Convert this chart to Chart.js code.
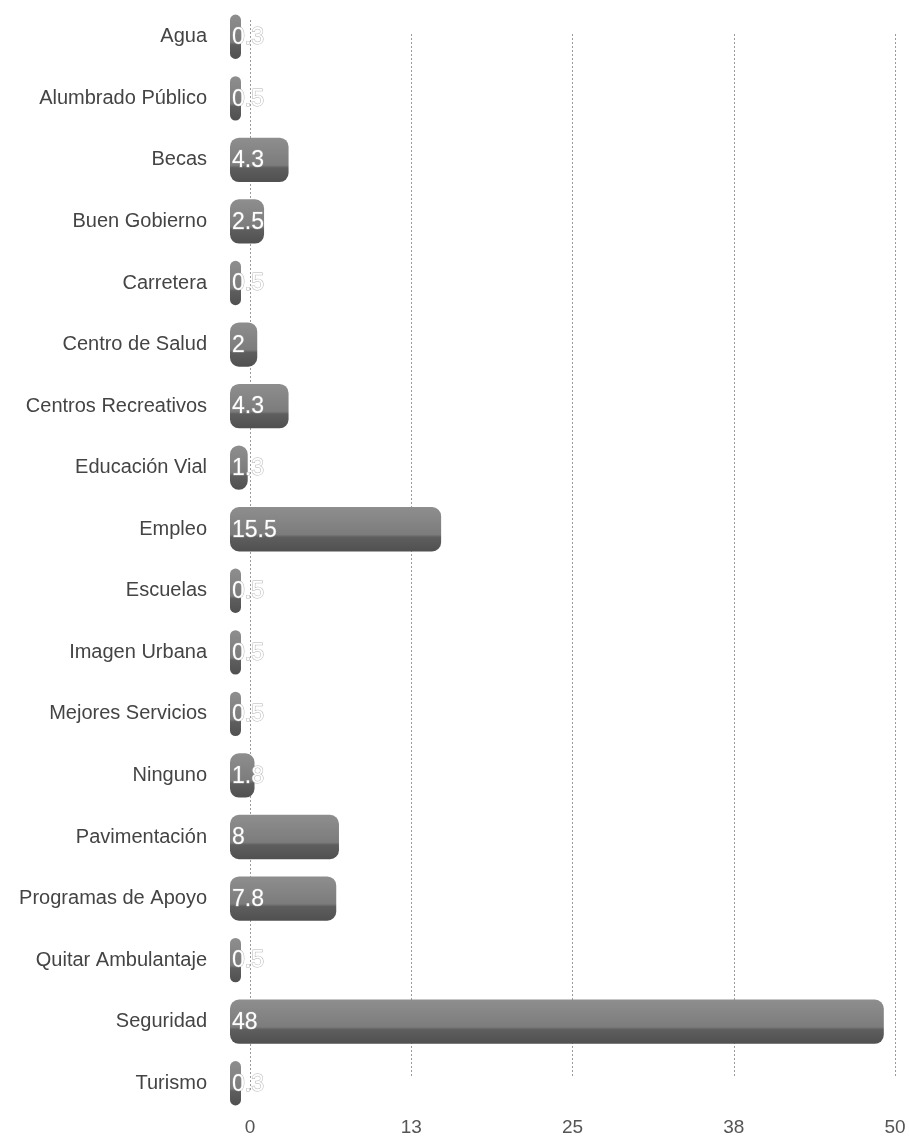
<!DOCTYPE html>
<html>
<head>
<meta charset="utf-8">
<script src="https://cdn.jsdelivr.net/npm/chart.js@4/dist/chart.umd.min.js"></script>
<style>
html,body{margin:0;padding:0;background:#fff;}
#wrap{width:909px;height:1142px;position:relative;}
</style>
</head>
<body>
<div id="wrap"><canvas id="c" width="909" height="1142"></canvas></div>
<script>
const categories = ["Agua","Alumbrado Público","Becas","Buen Gobierno","Carretera","Centro de Salud","Centros Recreativos","Educación Vial","Empleo","Escuelas","Imagen Urbana","Mejores Servicios","Ninguno","Pavimentación","Programas de Apoyo","Quitar Ambulantaje","Seguridad","Turismo"];
const values = [0.3,0.5,4.3,2.5,0.5,2,4.3,1.3,15.5,0.5,0.5,0.5,1.8,8,7.8,0.5,48,0.3];
const tickValues = [0,12.5,25,37.5,50];

const BAR_PCT = 0.72;

const dottedGrid = {
  id:'dottedGrid',
  beforeDatasetsDraw(chart){
    const s = chart.scales.x2, ctx = chart.ctx, a = chart.chartArea;
    ctx.save();
    ctx.strokeStyle = '#9a9a9a';
    ctx.lineWidth = 1;
    ctx.setLineDash([2,2]);
    s.ticks.forEach((t,i)=>{
      const x = Math.round(s.getPixelForValue(t.value)) + 0.5;
      const y0 = i===0 ? a.top + 14 : a.top + 28;
      const y1 = i===0 ? a.bottom - 24 : a.bottom - 36;
      ctx.beginPath(); ctx.moveTo(x,y0); ctx.lineTo(x,y1); ctx.stroke();
    });
    ctx.restore();
  }
};

const valueLabels = {
  id:'valueLabels',
  afterDatasetsDraw(chart){
    const ctx = chart.ctx;
    const meta = chart.getDatasetMeta(0);
    ctx.save();
    ctx.font = '23px "Liberation Sans", Arial, sans-serif';
    ctx.textBaseline = 'middle';
    ctx.textAlign = 'left';
    meta.data.forEach((bar,i)=>{
      const txt = String(values[i]);
      const x = bar.base + 2, y = bar.y + 1;
      ctx.lineWidth = 1;
      ctx.strokeStyle = 'rgba(160,160,160,0.8)';
      ctx.strokeText(txt, x, y);
      ctx.fillStyle = '#ffffff';
      ctx.fillText(txt, x, y);
    });
    ctx.restore();
  }
};

new Chart(document.getElementById('c'), {
  type:'bar',
  data:{
    labels:categories,
    datasets:[{
      data:values,
      xAxisID:'x',
      barPercentage:BAR_PCT,
      categoryPercentage:1,
      borderRadius:9,
      borderSkipped:false,
      minBarLength:11,
      backgroundColor:(c)=>{
        const chart=c.chart;
        if(!chart.chartArea) return '#777';
        const yS=chart.scales.y;
        const cy=yS.getPixelForValue(c.dataIndex);
        const h=yS.height/categories.length*BAR_PCT;
        const g=chart.ctx.createLinearGradient(0,cy-h/2,0,cy+h/2);
        g.addColorStop(0,'#8e8e8e');
        g.addColorStop(0.62,'#7c7c7c');
        g.addColorStop(0.68,'#5e5e5e');
        g.addColorStop(1,'#505050');
        return g;
      }
    }]
  },
  options:{
    indexAxis:'y',
    responsive:false,
    animation:false,
    layout:{padding:{top:0,right:0,left:0,bottom:0}},
    plugins:{legend:{display:false},tooltip:{enabled:false}},
    scales:{
      x:{
        type:'linear',
        display:false,
        min:0,
        max:49.85
      },
      x2:{
        type:'linear',
        position:'bottom',
        min:-1.55,
        max:51.085,
        afterBuildTicks:(s)=>{ s.ticks = tickValues.map(v=>({value:v})); },
        afterFit:(s)=>{ s.height = 28; s.paddingRight = 0; s.paddingLeft = 0; },
        ticks:{
          callback:(v)=>String(Math.round(v)),
          color:'#555',
          font:{family:'"Liberation Sans Narrow", "Liberation Sans", sans-serif', size:19, lineHeight:1},
          padding:4,
          maxRotation:0,
          autoSkip:false
        },
        grid:{display:false, drawTicks:false},
        border:{display:false}
      },
      y:{
        afterFit:(s)=>{ s.width = 230; },
        ticks:{
          color:'#444',
          font:{family:'"Liberation Sans", Arial, sans-serif', size:20, lineHeight:0.6},
          padding:0
        },
        grid:{display:false, drawTicks:true, tickLength:23},
        border:{display:false}
      }
    }
  },
  plugins:[dottedGrid, valueLabels]
});
</script>
</body>
</html>
